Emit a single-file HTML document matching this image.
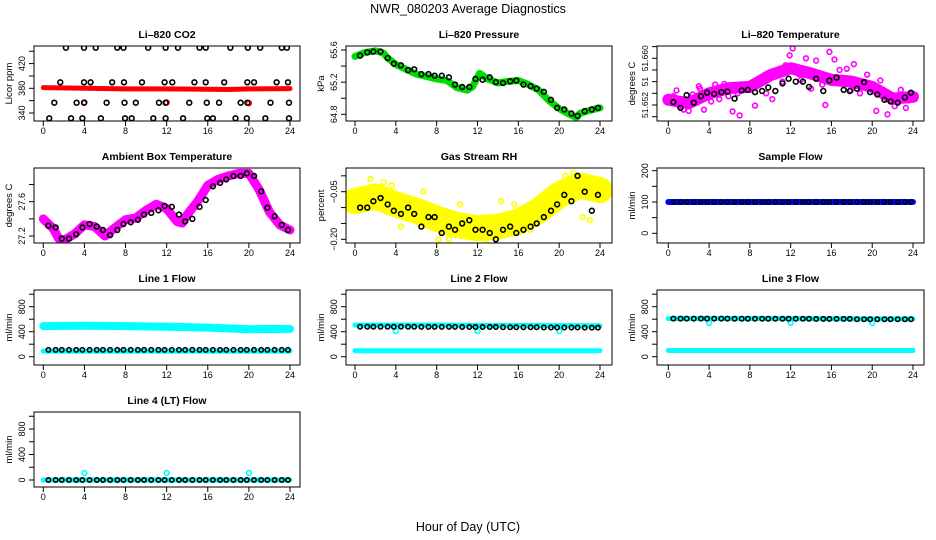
<!DOCTYPE html>
<html><head><meta charset="utf-8"><style>
body{margin:0;background:#fff}
svg{display:block;font-family:"Liberation Sans",Arial,sans-serif}
</style></head><body>
<svg id="c" width="936" height="540" viewBox="0 0 936 540">
<text x="468" y="13" text-anchor="middle" font-size="12.5">NWR_080203  Average Diagnostics</text>
<text x="468" y="531" text-anchor="middle" font-size="12.5">Hour of Day (UTC)</text>
</svg>
<script>
const HRS=[0.5,1.2,1.8,2.5,3.2,3.8,4.5,5.2,5.8,6.5,7.2,7.8,8.5,9.2,9.8,10.5,11.2,11.8,12.5,13.2,13.8,14.5,15.2,15.8,16.5,17.2,17.8,18.5,19.2,19.8,20.5,21.2,21.8,22.5,23.2,23.8];
const xTickLabels=[0,4,8,12,16,20,24];
// CO2
const co2TopX=[2.2,3.96,5.1,7.2,7.8,10.2,11.9,13.1,15.2,15.8,18.2,19.9,21.1,23.2,23.7];
const co2MidX=[1.65,3.96,4.6,6.7,7.85,9.6,11.8,12.55,14.7,15.8,17.6,19.85,20.5,22.7,23.8];
const co2LowX=[1.07,3.24,3.96,6.16,7.9,9.0,11.25,11.9,14.2,15.9,17.1,19.2,19.85,22.1,23.9];
const co2BotX=[0.58,2.7,3.8,5.6,7.95,8.6,10.7,11.9,13.6,15.95,16.5,18.7,19.8,21.6,23.9];
const co2Levels=[445.7,389.7,356.7,331.4];
const co2RedX=[0,4,8,12,16,18,20,24];
const co2RedY=[381,380,379,379,378.5,378,379,379.5];
const co2RedOutX=[4,12,20];
const co2RedOutY=[357,357,356];
// Pressure
const presKnotX=[0,1,2,2.8,3.2,4,5,6,7,8,9,10,11,11.5,12.2,13,14,15,16,17,18,19,20,21,21.7,22,23,24];
const presKnotY=[65.52,65.57,65.59,65.56,65.5,65.42,65.36,65.3,65.27,65.24,65.22,65.13,65.1,65.14,65.31,65.24,65.19,65.21,65.22,65.17,65.1,64.97,64.87,64.8,64.76,64.81,64.85,64.88];
const presBlack=[65.53,65.57,65.58,65.58,65.5,65.43,65.41,65.35,65.36,65.3,65.3,65.28,65.28,65.26,65.17,65.14,65.14,65.24,65.23,65.26,65.2,65.19,65.21,65.22,65.17,65.15,65.12,65.08,64.98,64.88,64.86,64.81,64.78,64.84,64.86,64.88];
// Li-820 temperature
const ltKnotX=[0,2,4,6,8,10,12,14,16,18,20,22,24];
const ltKnotY=[51.6529,51.6523,51.6540,51.6549,51.6551,51.6571,51.6583,51.6574,51.6563,51.6560,51.6551,51.6531,51.6534];
const ltOutX=[0.5,1.5,3,5.5,6.3,7,9.1,10.2,11.5,11.9,12.2,13.5,14.5,15.4,15.8,16.3,17.5,18.2,19,20.4,21.5,22.8,23.3,8.5,4.6,6.8,0.8,1.1,2.4,3.5,5,7.6,9.6,10.8,13,14,16.8,17.9,19.5,21,22.2,23.6,2,3.1,4.2,5.9,8.9,11.2,12.8,15.1,18.8,20.8];
const ltOutY=[51.6535,51.6512,51.6552,51.6556,51.6509,51.6502,51.6560,51.6530,51.6588,51.6605,51.6617,51.6600,51.6596,51.6520,51.6611,51.6598,51.6582,51.6590,51.6560,51.6510,51.6504,51.6546,51.6515,51.6519,51.6555,51.6540,51.6545,51.6518,51.6538,51.6512,51.6530,51.6552,51.6540,51.6575,51.6563,51.6548,51.6580,51.6545,51.6572,51.6540,51.6518,51.6528,51.6510,51.6548,51.6526,51.6535,51.6562,51.6560,51.6573,51.6555,51.6540,51.6562];
const ltBlack=[51.6525,51.6515,51.6537,51.6524,51.6535,51.6541,51.6539,51.6542,51.6543,51.6531,51.6545,51.6546,51.6542,51.6544,51.6550,51.6544,51.6557,51.6565,51.6560,51.6560,51.6551,51.6565,51.6544,51.6562,51.6567,51.6546,51.6544,51.6548,51.6559,51.6542,51.6538,51.6529,51.6526,51.6524,51.6533,51.6541];
// Ambient
const ambKnotX=[0,0.6,1,1.5,2,3,4,5,6,7,8,9,10,11,12,13,13.5,14,15,16,17,18,19,20,21,22,23,24];
const ambKnotY=[27.40,27.33,27.28,27.17,27.15,27.22,27.33,27.31,27.2,27.3,27.39,27.41,27.5,27.57,27.52,27.37,27.35,27.45,27.6,27.79,27.86,27.9,27.93,27.93,27.74,27.48,27.33,27.27];
const ambBlack=[27.32,27.3,27.17,27.17,27.22,27.3,27.34,27.31,27.27,27.21,27.27,27.34,27.36,27.39,27.45,27.47,27.5,27.55,27.54,27.45,27.37,27.4,27.54,27.62,27.78,27.82,27.86,27.9,27.9,27.93,27.9,27.72,27.53,27.43,27.33,27.27];
// RH
const rhKnotX=[0,2,4,6,8,10,12,14,16,18,20,22,24];
const rhKnotY=[-0.08,-0.065,-0.09,-0.11,-0.135,-0.155,-0.165,-0.16,-0.145,-0.11,-0.06,-0.03,-0.045];
const rhOutX=[1.5,2.8,4.5,6.7,7.2,8.2,10.3,12.8,14.3,15.6,17.2,20.6,21.4,22.3,23,3.6,9.2];
const rhOutY=[-0.01,-0.02,-0.16,-0.05,-0.09,-0.2,-0.09,-0.2,-0.08,-0.09,-0.17,0.0,0.01,-0.13,-0.14,-0.03,-0.2];
const rhBlack=[-0.10,-0.10,-0.08,-0.07,-0.09,-0.11,-0.12,-0.10,-0.12,-0.16,-0.13,-0.13,-0.18,-0.16,-0.17,-0.15,-0.14,-0.17,-0.17,-0.18,-0.20,-0.17,-0.16,-0.18,-0.17,-0.16,-0.15,-0.13,-0.11,-0.09,-0.06,-0.08,0.00,-0.05,-0.11,-0.06];
// Flows
const sampleFlow=100;
const l1Upper=[490,495,490,480,465,440,445];
const l1Lower=90, l1Black=110;
const l2Upper=[505,505,505,500,500,498,495];
const l2Lower=95;
const l2Black=[480,480,478,475,472,468,465];
const l3Upper=[610,612,612,610,608,605,605];
const l3Lower=100;
const l3Black=[610,610,608,607,605,600,600];
const l4Black=0, l4Cyan=0;
const outX=[4,12,20];
const l2OutY=[410,410,410];
const l3OutY=[540,540,540];
const l4OutY=[110,110,110];

const svg=document.getElementById('c');
const NS='http://www.w3.org/2000/svg';
function mk(tag,attrs,parent){const e=document.createElementNS(NS,tag);for(const k in attrs)e.setAttribute(k,attrs[k]);(parent||svg).appendChild(e);return e;}
const COLS=[{l:34,r:300,x0:43.3,x24:290},{l:346,r:612,x0:355,x24:600},{l:657,r:924,x0:668.3,x24:913}];
const ROWS=[{t:46,b:121},{t:168,b:243},{t:290,b:365},{t:412,b:487}];
function panel(c,r,title,ylab,v1,p1,v2,p2,ticks,labels,slug,lfs){
  const C=COLS[c],R=ROWS[r];
  const g=mk('g',{});
  
  
  const xs=h=>C.x0+(C.x24-C.x0)*h/24;
  const ys=v=>p1+(v-v1)*(p2-p1)/(v2-v1);
  const clipId='clip'+slug;
  const cp=mk('clipPath',{id:clipId},g);mk('rect',{x:C.l,y:R.t,width:C.r-C.l,height:R.b-R.t},cp);
  const plot=mk('g',{'clip-path':'url(#'+clipId+')'},g);
  
  
  const box=mk('rect',{x:C.l,y:R.t,width:C.r-C.l,height:R.b-R.t,fill:'none',stroke:'#000','stroke-width':1},g);
  
  
  const t=mk('text',{x:(C.l+C.r)/2,y:R.t-8,'text-anchor':'middle','font-size':10.5,'font-weight':'bold'},g);t.textContent=title;
  
  
  const yl=mk('text',{transform:`translate(${C.l-22},${(R.t+R.b)/2}) rotate(-90)`,'text-anchor':'middle','font-size':9.5},g);yl.textContent=ylab;
  
  
  const xa=mk('g',{},g);
  
  
  mk('line',{x1:xs(0),x2:xs(24),y1:R.b,y2:R.b,stroke:'#000'},xa);
  xTickLabels.forEach(h=>{mk('line',{x1:xs(h),x2:xs(h),y1:R.b,y2:R.b+5,stroke:'#000'},xa);
    const tx=mk('text',{x:xs(h),y:R.b+13,'text-anchor':'middle','font-size':9},xa);tx.textContent=h;
    
    });
  const ya=mk('g',{},g);
  
  
  ticks.forEach(v=>{mk('line',{x1:C.l-5,x2:C.l,y1:ys(v),y2:ys(v),stroke:'#000'},ya);});
  labels.forEach(([v,s])=>{const tx=mk('text',{transform:`translate(${C.l-9},${ys(v)}) rotate(-90)`,'text-anchor':'middle','font-size':lfs||9},ya);tx.textContent=s;
    
    });
  return {plot,xs,ys};
}
function band(P,X,Y,col,w,name){
  const el=mk('polyline',{points:X.map((h,i)=>P.xs(h)+','+P.ys(Y[i])).join(' '),fill:'none',stroke:col,'stroke-width':w,'stroke-linejoin':'round','stroke-linecap':'round'},P.plot);
  
  
}
function pts(P,X,Y,col,name,r){
  X.forEach((h,i)=>{const el=mk('circle',{cx:P.xs(h),cy:P.ys(Y[i]),r:r||2.4,fill:'none',stroke:col,'stroke-width':1.6},P.plot);
    
    });
}
const full=[0,4,8,12,16,20,24];
const cst=(v,n)=>Array(n).fill(v);

let P=panel(0,0,'Li\u2013820 CO2','Licor ppm',340,113,380,88.3,[340,360,380,400,420,440],[[340,'340'],[380,'380'],[420,'420']],'co2');
band(P,co2RedX,co2RedY,'#ff0000',5,'co2-red-series');
pts(P,co2RedOutX,co2RedOutY,'#ff0000','co2-red-point');
[co2TopX,co2MidX,co2LowX,co2BotX].forEach((X,k)=>pts(P,X,cst(co2Levels[k],X.length),'#000','co2-black-point'));

P=panel(1,0,'Li\u2013820 Pressure','kPa',64.8,114.3,65.6,50,[64.8,65.0,65.2,65.4,65.6],[[64.8,'64.8'],[65.2,'65.2'],[65.6,'65.6']],'pressure');
band(P,presKnotX,presKnotY,'#00dd00',7,'pressure-green-series');
pts(P,HRS,presBlack,'#000','pressure-black-point');

P=panel(2,0,'Li\u2013820 Temperature','degrees C',51.652,105,51.660,58.3,[51.650,51.652,51.654,51.656,51.658,51.660,51.662],[[51.652,'51.652'],[51.656,'51'],[51.660,'51.660']],'li-temp',8.5);
band(P,ltKnotX,ltKnotY,'#ff00ff',12,'li-temp-magenta-series');
pts(P,ltOutX,ltOutY,'#ff00ff','li-temp-magenta-point');
pts(P,HRS,ltBlack,'#000','li-temp-black-point');

P=panel(0,1,'Ambient Box Temperature','degrees C',27.2,236,27.6,201.7,[27.2,27.4,27.6,27.8],[[27.2,'27.2'],[27.6,'27.6']],'ambient');
band(P,ambKnotX,ambKnotY,'#ff00ff',9,'ambient-magenta-series');
pts(P,HRS,ambBlack,'#000','ambient-black-point');

P=panel(1,1,'Gas Stream RH','percent',-0.20,239.3,-0.05,191.7,[-0.20,-0.15,-0.10,-0.05,0.00],[[-0.20,'\u22120.20'],[-0.05,'\u22120.05']],'rh');
band(P,rhKnotX,rhKnotY,'#ffff00',26,'rh-yellow-series');
pts(P,rhOutX,rhOutY,'#ffff00','rh-yellow-point');
pts(P,HRS,rhBlack,'#000','rh-black-point');

P=panel(2,1,'Sample Flow','ml/min',0,233.3,200,170.7,[0,50,100,150,200],[[0,'0'],[100,'100'],[200,'200']],'sample-flow');
band(P,[0,24],[sampleFlow,sampleFlow],'#0000ff',6,'sample-flow-blue-series');
pts(P,HRS,cst(sampleFlow,HRS.length),'#000','sample-flow-black-point',2);
const ft=[0,200,400,600,800,1000], fl=[[0,'0'],[400,'400'],[800,'800']];

P=panel(0,2,'Line 1 Flow','ml/min',0,356.7,800,306.7,ft,fl,'line1');
band(P,full,l1Upper,'#00ffff',8,'line1-cyan-upper');
band(P,[0,24],[l1Lower,l1Lower],'#00ffff',5,'line1-cyan-lower');
pts(P,HRS,cst(l1Black,HRS.length),'#000','line1-black-point',2.2);

P=panel(1,2,'Line 2 Flow','ml/min',0,356.7,800,306.7,ft,fl,'line2');
band(P,full,l2Upper,'#00ffff',5,'line2-cyan-upper');
band(P,[0,24],[l2Lower,l2Lower],'#00ffff',5,'line2-cyan-lower');
pts(P,outX,l2OutY,'#00ffff','line2-cyan-point');
pts(P,HRS,HRS.map(h=>l2Black[Math.min(6,Math.round(h/4))]),'#000','line2-black-point',2.2);

P=panel(2,2,'Line 3 Flow','ml/min',0,356.7,800,306.7,ft,fl,'line3');
band(P,full,l3Upper,'#00ffff',5,'line3-cyan-upper');
band(P,[0,24],[l3Lower,l3Lower],'#00ffff',5,'line3-cyan-lower');
pts(P,outX,l3OutY,'#00ffff','line3-cyan-point');
pts(P,HRS,HRS.map(h=>l3Black[Math.min(6,Math.round(h/4))]),'#000','line3-black-point',2.2);

P=panel(0,3,'Line 4 (LT) Flow','ml/min',0,480,800,429,ft,fl,'line4');
band(P,[0,24],[l4Cyan,l4Cyan],'#00ffff',5,'line4-cyan-series');
pts(P,outX,l4OutY,'#00ffff','line4-cyan-point');
pts(P,HRS,cst(l4Black,HRS.length),'#000','line4-black-point',2.2);
</script>
</body></html>
